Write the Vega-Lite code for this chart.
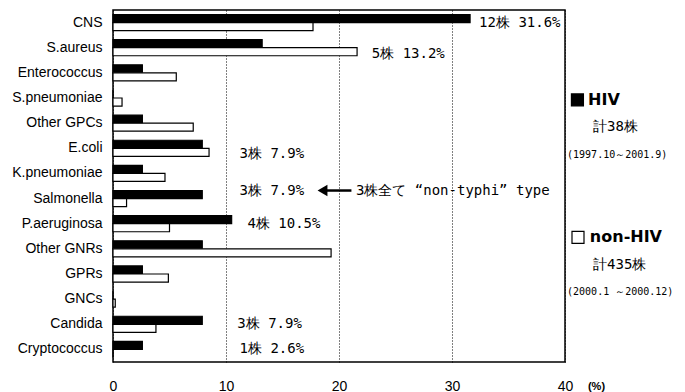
{
  "$schema": "https://vega.github.io/schema/vega-lite/v6.json",
  "width": 452,
  "height": 352,
  "autosize": {"type": "none"},
  "padding": {"left": 113, "top": 10, "right": 120, "bottom": 30},
  "background": "white",
  "config": {"view": {"stroke": "black", "strokeWidth": 1.5}, "font": "Liberation Sans"},
  "datasets": {
    "bars": [
      {"cat": "CNS", "group": "HIV", "value": 31.6}, {"cat": "CNS", "group": "non-HIV", "value": 17.7},
      {"cat": "S.aureus", "group": "HIV", "value": 13.2}, {"cat": "S.aureus", "group": "non-HIV", "value": 21.6},
      {"cat": "Enterococcus", "group": "HIV", "value": 2.6}, {"cat": "Enterococcus", "group": "non-HIV", "value": 5.6},
      {"cat": "S.pneumoniae", "group": "HIV", "value": 0}, {"cat": "S.pneumoniae", "group": "non-HIV", "value": 0.8},
      {"cat": "Other GPCs", "group": "HIV", "value": 2.6}, {"cat": "Other GPCs", "group": "non-HIV", "value": 7.1},
      {"cat": "E.coli", "group": "HIV", "value": 7.9}, {"cat": "E.coli", "group": "non-HIV", "value": 8.5},
      {"cat": "K.pneumoniae", "group": "HIV", "value": 2.6}, {"cat": "K.pneumoniae", "group": "non-HIV", "value": 4.6},
      {"cat": "Salmonella", "group": "HIV", "value": 7.9}, {"cat": "Salmonella", "group": "non-HIV", "value": 1.2},
      {"cat": "P.aeruginosa", "group": "HIV", "value": 10.5}, {"cat": "P.aeruginosa", "group": "non-HIV", "value": 5.0},
      {"cat": "Other GNRs", "group": "HIV", "value": 7.9}, {"cat": "Other GNRs", "group": "non-HIV", "value": 19.3},
      {"cat": "GPRs", "group": "HIV", "value": 2.6}, {"cat": "GPRs", "group": "non-HIV", "value": 4.9},
      {"cat": "GNCs", "group": "HIV", "value": 0}, {"cat": "GNCs", "group": "non-HIV", "value": 0.2},
      {"cat": "Candida", "group": "HIV", "value": 7.9}, {"cat": "Candida", "group": "non-HIV", "value": 3.8},
      {"cat": "Cryptococcus", "group": "HIV", "value": 2.6}, {"cat": "Cryptococcus", "group": "non-HIV", "value": 0}
    ],
    "notesMid": [
      {"cat": "CNS", "x": 32.4, "label": "12株 31.6%"},
      {"cat": "P.aeruginosa", "x": 11.9, "label": "4株 10.5%"},
      {"cat": "Candida", "x": 11.0, "label": "3株 7.9%"},
      {"cat": "Cryptococcus", "x": 11.2, "label": "1株 2.6%"}
    ],
    "notesLow": [
      {"cat": "S.aureus", "x": 22.9, "label": "5株 13.2%"},
      {"cat": "E.coli", "x": 11.2, "label": "3株 7.9%"}
    ],
    "notesHigh": [
      {"cat": "Salmonella", "x": 11.2, "label": "3株 7.9%"},
      {"cat": "Salmonella", "x": 21.5, "label": "3株全て “non-typhi” type"}
    ],
    "arrow": [{"cat": "Salmonella", "x": 18.54, "x2": 21.1}],
    "legSym": [{"line": 0, "x": 41.1, "group": "HIV"}, {"line": 5, "x": 41.15, "group": "non-HIV"}],
    "legName": [{"line": 0, "x": 42.04, "label": "HIV"}, {"line": 5, "x": 42.2, "label": "non-HIV"}],
    "legTotal": [{"line": 1, "x": 42.48, "label": "計38株"}, {"line": 6, "x": 42.48, "label": "計435株"}],
    "legPeriod": [{"line": 2, "x": 40.18, "label": "(1997.10～2001.9)"}, {"line": 7, "x": 40.18, "label": "(2000.1 ～2000.12)"}]
  },
  "layer": [
    {
      "encoding": {
        "y": {
          "field": "cat", "type": "nominal",
          "scale": {"domain": ["CNS", "S.aureus", "Enterococcus", "S.pneumoniae", "Other GPCs", "E.coli", "K.pneumoniae", "Salmonella", "P.aeruginosa", "Other GNRs", "GPRs", "GNCs", "Candida", "Cryptococcus"], "paddingInner": 0.36, "paddingOuter": 0.18},
          "axis": {"title": null, "ticks": false, "domain": false, "grid": false, "labelFontSize": 14, "labelColor": "black", "labelPadding": 11, "labelFont": "Liberation Sans"}
        }
      },
      "layer": [
        {
          "data": {"name": "bars"},
          "mark": {"type": "bar", "stroke": "black", "strokeWidth": 1.2},
          "encoding": {
            "yOffset": {"field": "group", "scale": {"domain": ["HIV", "non-HIV"], "paddingInner": 0}},
            "x": {
              "field": "value", "type": "quantitative",
              "scale": {"domain": [0, 40], "nice": false, "zero": true},
              "axis": {"title": "(%)", "values": [0, 10, 20, 30, 40], "grid": true, "gridColor": "black", "gridDash": [1, 2], "gridWidth": 1, "gridOpacity": 1, "domain": false, "ticks": false, "labelFlush": false, "labelFontSize": 14, "labelColor": "black", "labelPadding": 17, "labelFont": "Liberation Sans", "titleX": 483, "titleY": 24, "titleBaseline": "middle", "titleAlign": "center", "titleAnchor": null, "titleFontWeight": "bold", "titleFontSize": 11, "titleColor": "black", "titleFont": "Liberation Sans"}
            },
            "fill": {"field": "group", "type": "nominal", "scale": {"domain": ["HIV", "non-HIV"], "range": ["black", "white"]}, "legend": null}
          }
        },
        {
          "data": {"name": "notesMid"},
          "mark": {"type": "text", "font": "DejaVu Sans Mono", "fontSize": 14, "align": "left", "baseline": "middle", "color": "black"},
          "encoding": {"x": {"field": "x", "type": "quantitative"}, "text": {"field": "label"}}
        },
        {
          "data": {"name": "notesLow"},
          "mark": {"type": "text", "font": "DejaVu Sans Mono", "fontSize": 14, "align": "left", "baseline": "middle", "color": "black", "dy": 6},
          "encoding": {"x": {"field": "x", "type": "quantitative"}, "text": {"field": "label"}}
        },
        {
          "data": {"name": "notesHigh"},
          "mark": {"type": "text", "font": "DejaVu Sans Mono", "fontSize": 14, "align": "left", "baseline": "middle", "color": "black", "dy": -8},
          "encoding": {"x": {"field": "x", "type": "quantitative"}, "text": {"field": "label"}}
        },
        {
          "data": {"name": "arrow"},
          "mark": {"type": "rule", "color": "black", "strokeWidth": 2.5},
          "encoding": {
            "y": {"field": "cat", "type": "nominal", "bandPosition": 0},
            "x": {"field": "x", "type": "quantitative"},
            "x2": {"field": "x2"}
          }
        },
        {
          "data": {"name": "arrow"},
          "mark": {"type": "point", "shape": "triangle-left", "filled": true, "size": 130, "color": "black", "opacity": 1},
          "encoding": {
            "y": {"field": "cat", "type": "nominal", "bandPosition": 0},
            "x": {"field": "x", "type": "quantitative"}
          }
        }
      ]
    },
    {
      "encoding": {
        "y": {"field": "line", "type": "quantitative", "scale": {"domain": [-3.27, 9.53], "reverse": true, "nice": false, "zero": false}, "axis": null}
      },
      "layer": [
        {
          "data": {"name": "legSym"},
          "mark": {"type": "point", "shape": "square", "filled": true, "size": 144, "stroke": "black", "strokeWidth": 1.2, "opacity": 1},
          "encoding": {
            "x": {"field": "x", "type": "quantitative"},
            "fill": {"field": "group", "type": "nominal", "scale": {"domain": ["HIV", "non-HIV"], "range": ["black", "white"]}, "legend": null}
          }
        },
        {
          "data": {"name": "legName"},
          "mark": {"type": "text", "font": "DejaVu Sans", "fontWeight": "bold", "fontSize": 16, "align": "left", "baseline": "middle", "color": "black"},
          "encoding": {"x": {"field": "x", "type": "quantitative"}, "text": {"field": "label"}}
        },
        {
          "data": {"name": "legTotal"},
          "mark": {"type": "text", "font": "DejaVu Sans Mono", "fontSize": 14, "align": "left", "baseline": "middle", "color": "black"},
          "encoding": {"x": {"field": "x", "type": "quantitative"}, "text": {"field": "label"}}
        },
        {
          "data": {"name": "legPeriod"},
          "mark": {"type": "text", "font": "DejaVu Sans Mono", "fontSize": 10, "align": "left", "baseline": "middle", "color": "black"},
          "encoding": {"x": {"field": "x", "type": "quantitative"}, "text": {"field": "label"}}
        }
      ]
    }
  ],
  "resolve": {"scale": {"y": "independent"}}
}
